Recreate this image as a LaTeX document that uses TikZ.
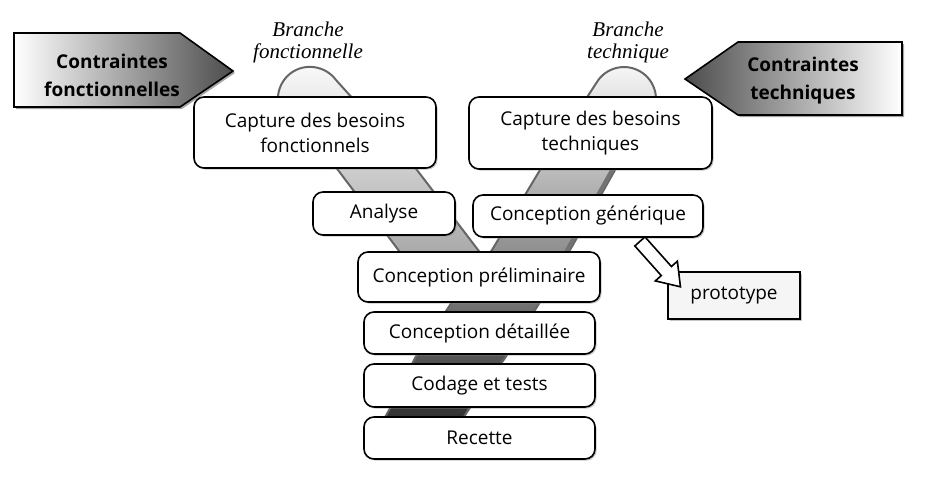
\documentclass[tikz,border=0pt]{standalone}
\usepackage{fontspec}
\setmainfont{Open Sans}
\newfontfamily\branchfont{Liberation Serif}
\usetikzlibrary{calc,shadows,shapes.arrows}
\tikzset{%
  stage/.style      = {shape=rectangle, rounded corners=5pt,%
                       draw, line width=0.8pt, fill=white, align=center,%
                       inner sep=2pt, font=\fontsize{9.5}{12.5}\selectfont,%
                       drop shadow={shadow xshift=0.8pt, shadow yshift=-0.8pt, fill=black!45}},%
  protobox/.style   = {stage, sharp corners, fill=black!4},%
  constraint/.style = {align=center, font=\fontsize{9.5}{14}\selectfont\bfseries},%
  branch/.style     = {align=center, font=\branchfont\itshape\fontsize{10.5}{11}\selectfont},%
  band/.style       = {draw=black!60, line width=1pt},%
  pointer/.style    = {draw, line width=0.8pt, fill=white, shape=single arrow,%
                       inner xsep=0pt, inner ysep=3pt, minimum width=14pt,%
                       single arrow head extend=4pt, single arrow tip angle=70},%
  shadowed/.style   = {draw, line width=0.8pt,%
                       drop shadow={shadow xshift=1pt, shadow yshift=-1pt, fill=black!70}}%
}
\begin{document}
\begin{tikzpicture}[x=0.5pt, y=-0.5pt]
	\useasboundingbox (0,0) rectangle (929,481);
	% the two branches of the Y
	\path[band, top color=black!2, bottom color=black!38]
		(336,80) -- (417,170) -- (501,280) -- (421,280) -- (338,170) -- (284,118)
		.. controls (273.6,103.8) and (276.8,83.4) .. (291,73)
		.. controls (305,62.6) and (325.6,65.8) .. (336,80) -- cycle;
	\path[band, top color=black!3, middle color=black!18, bottom color=black!85]
		(596.5,82.7) .. controls (605.5,67.5) and (625.1,62.5) .. (640.3,71.5)
		.. controls (655.5,80.5) and (660.5,100.1) .. (651.5,115.3)
		-- (615,170) -- (570,250) -- (540,302) -- (505,358) -- (467,412) -- (450,440)
		-- (372,440) -- (388,412) -- (415,358) -- (452,302) -- (492,250) -- (540,170) -- cycle;
	\draw[black!55, line width=2pt] (648,120) -- (611,172) -- (566,252) -- (536,304);
	% constraints
	\path[shadowed, left color=white, right color=black!70]
		(14,33) -- (180,33) -- (233,71) -- (180,107) -- (14,107) -- cycle;
	\path[shadowed, left color=black!70, right color=white]
		(902,42) -- (738,42) -- (685,79) -- (738,115) -- (902,115) -- cycle;
	\node[constraint] (cf) at (112,75) {Contraintes\\fonctionnelles};
	\node[constraint] (ct) at (803,81) {Contraintes\\techniques};
	\node[branch] (bf) at (308,42) {Branche\\fonctionnelle};
	\node[branch] (bt) at (628,42) {Branche\\technique};
	% stages
	\node[stage, minimum width=121pt, minimum height=35.5pt] (cbf) at (315,132.5) {Capture des besoins\\fonctionnels};
	\node[stage, minimum width=121.5pt, minimum height=36pt] (cbt) at (590.5,133) {Capture des besoins\\techniques};
	\node[stage, minimum width=71pt, minimum height=21.5pt] (ana) at (384,213.5) {Analyse};
	\node[stage, minimum width=115pt, minimum height=21pt] (gen) at (588,216) {Conception générique};
	\node[stage, minimum width=121pt, minimum height=25pt] (pre) at (479,277) {Conception préliminaire};
	\node[stage, minimum width=115.5pt, minimum height=21pt] (det) at (479.5,333) {Conception détaillée};
	\node[stage, minimum width=115.5pt, minimum height=21.5pt] (cod) at (479.5,385.5) {Codage et tests};
	\node[stage, minimum width=115.5pt, minimum height=21pt] (rec) at (479.5,438) {Recette};
	\node[protobox, minimum width=66pt, minimum height=23.5pt] (pro) at (734,295.5) {prototype};
	% block arrow towards the prototype
	\coordinate (tail) at ($(gen.south west)!0.71!(gen.south east)$);
	\coordinate (tip) at ($(pro.north west)+(10,12)$);
	\path let \p1 = (tail), \p2 = (tip),
		\n1 = {atan2(\y2-\y1,\x2-\x1)}, \n2 = {veclen(\x2-\x1,\y2-\y1)} in
		node[pointer, rotate=\n1, minimum height=\n2] (arr) at ($(tail)!0.5!(tip)$) {};
\end{tikzpicture}
\end{document}
